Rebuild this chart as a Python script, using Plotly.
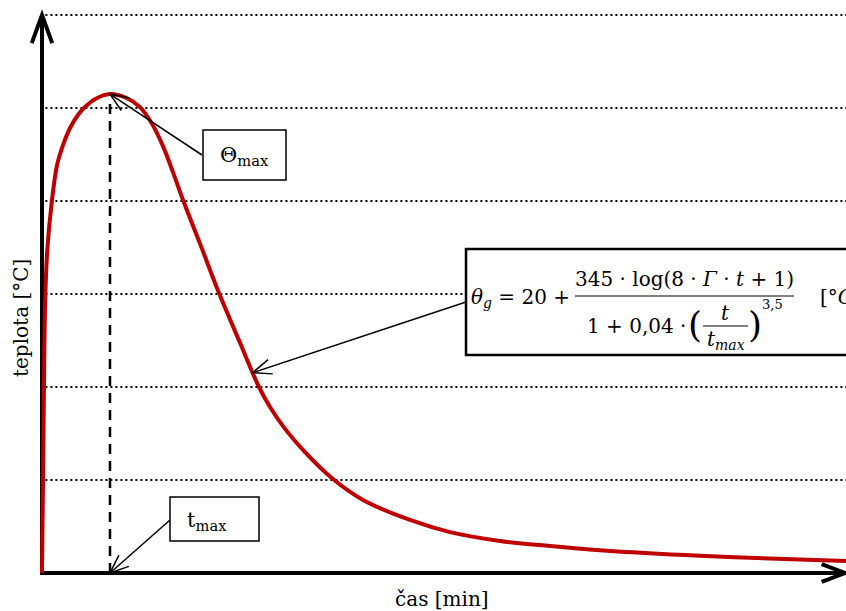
import math
import numpy as np
import plotly.graph_objects as go

# ---- data (time in min, temperature in °C) ----
time_min = [0.0, 0.15, 0.29, 0.47, 0.78, 1.47, 2.21, 3.09, 4.12, 5.29, 6.32, 7.79,
            10.0, 12.35, 14.41, 16.18, 17.79, 19.26, 20.74, 23.38, 26.03, 29.12,
            31.91, 33.53, 35.74, 38.68, 42.79, 47.21, 54.12,
            60.0, 67.35, 74.71, 82.06, 96.76, 111.47, 118.24]
temp_c = [0, 200, 400, 587, 695, 802, 877, 920, 957, 985, 1002, 1019,
          1030, 1022, 1002, 966, 918, 862, 802, 703, 602, 495,
          400, 357, 310, 260, 202, 157, 114,
          88, 69, 58, 49, 37, 29, 26]
grid_levels = [200, 400, 600, 800, 1000, 1200]
t_max = 10.0
theta_max = 1030
formula_arrow_time = 31.0   # time at which the formula arrow touches the curve

# ---- layout geometry ----
W, H = 846, 611
X0_PX, Y0_PX = 42, 573
PX_PER_MIN = 6.8
PX_PER_DEG = 93 / 200

x_range = [-X0_PX / PX_PER_MIN, (W - X0_PX) / PX_PER_MIN]
y_range = [-(H - Y0_PX) / PX_PER_DEG, Y0_PX / PX_PER_DEG]


def dpx(x):
    return X0_PX + x * PX_PER_MIN


def dpy(y):
    return Y0_PX - y * PX_PER_DEG


def fx(px):
    return px / W


def fy(py):
    return 1 - py / H


FONT = "DejaVu Serif"

fig = go.Figure()
fig.add_trace(go.Scatter(
    x=time_min, y=temp_c, mode="lines",
    line=dict(color="#C00000", width=4, shape="spline", smoothing=1.0),
    hoverinfo="skip"))

shapes = []
annotations = []

# dotted grid lines
for g in grid_levels:
    shapes.append(dict(type="line", xref="x", yref="y", x0=0.5, x1=x_range[1],
                       y0=g, y1=g, layer="below",
                       line=dict(color="black", width=2, dash="2px,3px")))

# dashed vertical at t_max
shapes.append(dict(type="line", xref="x", yref="y", x0=t_max, x1=t_max,
                   y0=0, y1=theta_max * 0.985, layer="below",
                   line=dict(color="black", width=2.5, dash="10px,7px")))

# axes lines
ox, oy = dpx(0), dpy(0)
shapes.append(dict(type="line", xref="paper", yref="paper",
                   x0=fx(ox), x1=fx(ox), y0=fy(oy + 2), y1=fy(16), layer="below",
                   line=dict(color="black", width=4)))
shapes.append(dict(type="line", xref="paper", yref="paper",
                   x0=fx(ox - 2), x1=fx(844), y0=fy(oy), y1=fy(oy), layer="below",
                   line=dict(color="black", width=4)))


def chevron(tip, tail, length, half_deg, width):
    tx, ty = tip
    dx, dy = tail[0] - tx, tail[1] - ty
    n = math.hypot(dx, dy)
    ux, uy = dx / n, dy / n
    pts = []
    for s in (1, -1):
        a = math.radians(half_deg) * s
        rx = ux * math.cos(a) - uy * math.sin(a)
        ry = ux * math.sin(a) + uy * math.cos(a)
        pts.append((tx + rx * length, ty + ry * length))
    path = "M {} {} L {} {} L {} {}".format(
        fx(pts[0][0]), fy(pts[0][1]), fx(tx), fy(ty), fx(pts[1][0]), fy(pts[1][1]))
    return dict(type="path", xref="paper", yref="paper", path=path,
                line=dict(color="black", width=width))


# axis arrow heads
shapes.append(chevron((ox, 15), (ox, 100), 30, 20, 4))
shapes.append(chevron((845, oy), (700, oy), 25, 21, 4))


def arrow(tip, tail, width=1.5):
    shapes.append(dict(type="line", xref="paper", yref="paper",
                       x0=fx(tail[0]), y0=fy(tail[1]), x1=fx(tip[0]), y1=fy(tip[1]),
                       line=dict(color="black", width=width)))
    shapes.append(chevron(tip, tail, 20, 22, width))


def rect(x0, y0, x1, y1, width):
    shapes.append(dict(type="rect", xref="paper", yref="paper",
                       x0=fx(x0), x1=fx(x1), y0=fy(y0), y1=fy(y1),
                       fillcolor="white", line=dict(color="black", width=width)))


def text(t, x, y, size, xanchor="center", yanchor="middle", angle=0):
    annotations.append(dict(text=t, xref="paper", yref="paper", x=fx(x), y=fy(y),
                            xanchor=xanchor, yanchor=yanchor, showarrow=False,
                            textangle=angle,
                            font=dict(family=FONT, size=size, color="black")))


# Θmax label
peak = (dpx(t_max), dpy(theta_max))
arrow(peak, (202, 155))
rect(203, 130, 286, 180, 1.5)
text("Θ<sub>max</sub>", 244, 156, 21)

# tmax label
base = (dpx(t_max), dpy(0))
arrow(base, (170, 520))
rect(170, 497, 259, 541, 1.5)
text("t<sub>max</sub>", 207, 521, 21)

# formula box
f_temp = float(np.interp(formula_arrow_time, time_min, temp_c))
fpt = (dpx(formula_arrow_time), dpy(f_temp))
arrow(fpt, (466, 302))
rect(466, 249, 852, 355, 2.5)
text("<i>θ</i><sub><i>g</i></sub> = 20 +", 469, 298, 20, xanchor="left")
text("345 · log(8 · <i>Γ</i> · <i>t</i> + 1)", 684, 279, 20)
shapes.append(dict(type="line", xref="paper", yref="paper",
                   x0=fx(575), x1=fx(794), y0=fy(296), y1=fy(296),
                   line=dict(color="black", width=1.2)))
text("1 + 0,04 ·", 688, 326, 20, xanchor="right")
text("(", 695, 324, 36)
text("<i>t</i>", 725, 313, 20)
shapes.append(dict(type="line", xref="paper", yref="paper",
                   x0=fx(703), x1=fx(748), y0=fy(326), y1=fy(326),
                   line=dict(color="black", width=1.2)))
text("<i>t</i><sub><i>max</i></sub>", 726, 340, 20)
text(")", 755, 324, 36)
text("3,5", 772, 304, 13)
text("[°<i>C</i>", 818, 297, 20, xanchor="left")

# axis titles
text("čas [min]", 442, 599, 20)
text("teplota [°C]", 21, 318, 20, angle=-90)

fig.update_layout(
    width=W, height=H, margin=dict(l=0, r=0, t=0, b=0),
    paper_bgcolor="white", plot_bgcolor="rgba(0,0,0,0)",
    showlegend=False,
    xaxis=dict(range=x_range, visible=False, fixedrange=True),
    yaxis=dict(range=y_range, visible=False, fixedrange=True),
    shapes=shapes, annotations=annotations,
)

fig.write_html("out.html")
